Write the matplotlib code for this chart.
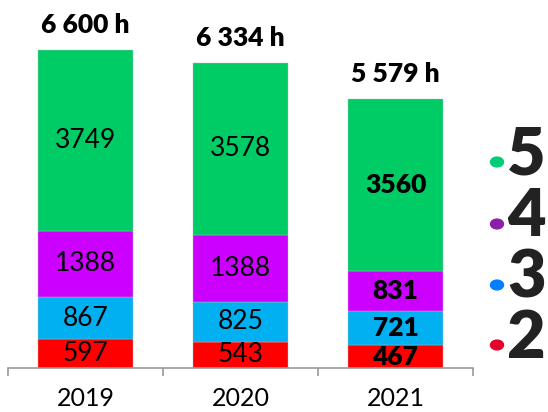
import matplotlib
matplotlib.use("Agg")
import matplotlib.pyplot as plt
import numpy as np

# ── Data ──────────────────────────────────────────────────────────────────────
years   = ["2019", "2020", "2021"]
grade_2 = [597, 543, 467]
grade_3 = [867, 825, 721]
grade_4 = [1388, 1388, 831]
grade_5 = [3749, 3578, 3560]
totals  = ["6 600 h", "6 334 h", "5 579 h"]
bold_year = "2021"

seg_colors   = ["#ff0000", "#00b0f0", "#cc00ff", "#00cc66"]
legend_nums  = ["5", "4", "3", "2"]
legend_dots  = ["#00cc77", "#8a1fa8", "#0080ff", "#e4002b"]

FONT = "Lato"

# ── Figure ────────────────────────────────────────────────────────────────────
W, H = 548, 412
fig = plt.figure(figsize=(W / 100, H / 100), dpi=100, facecolor="white")
ax = fig.add_axes([8 / W, 44 / H, 465 / W, 368 / H])

x = np.arange(len(years))
series = [grade_2, grade_3, grade_4, grade_5]
bottom = np.zeros(len(years))
for vals, col in zip(series, seg_colors):
    vals = np.array(vals, dtype=float)
    ax.bar(x, vals, bottom=bottom, width=0.613, color=col,
           edgecolor="#bbbbbb", linewidth=0.3)
    for xi, v, b, yr in zip(x, vals, bottom, years):
        bold = yr == bold_year
        ax.text(xi, b + v / 2, f"{int(v)}", ha="center", va="center",
                fontsize=19, family=FONT,
                fontweight="heavy" if bold else "normal", color="black")
    bottom += vals

for xi, b, t in zip(x, bottom, totals):
    ax.annotate(t, (xi, b), xytext=(0, 18), textcoords="offset points",
                ha="center", va="center", fontsize=19, fontweight="heavy",
                family=FONT, color="black")

ax.set_xlim(-0.5, len(years) - 0.5)
ax.set_ylim(0, 368 / 0.0482)

for s in ("top", "right", "left"):
    ax.spines[s].set_visible(False)
ax.spines["bottom"].set_color("#999999")
ax.spines["bottom"].set_linewidth(1.2)
ax.set_yticks([])

ax.set_xticks(x)
ax.set_xticklabels(years, fontsize=18, family=FONT, fontweight="normal")
ax.tick_params(axis="x", which="major", length=0, pad=14)
ax.set_xticks(np.arange(-0.5, len(years)), minor=True)
ax.tick_params(axis="x", which="minor", length=6, width=1.2, color="#999999",
               direction="out")

# ── Legend (dots + big grade numerals) ───────────────────────────────────────
leg_y = [155, 217, 278, 338]
for num, col, yy in zip(legend_nums, legend_dots, leg_y):
    fig.patches.append(plt.Circle((497 / W, 1 - (yy + 7) / H), 6.5 / W,
                                  transform=fig.transFigure, color=col))
    fig.text(507 / W, 1 - yy / H, num, ha="left", va="center",
             fontsize=48, fontweight="heavy", family=FONT, color="#222222")

fig.savefig("out.png", dpi=100, facecolor="white")
